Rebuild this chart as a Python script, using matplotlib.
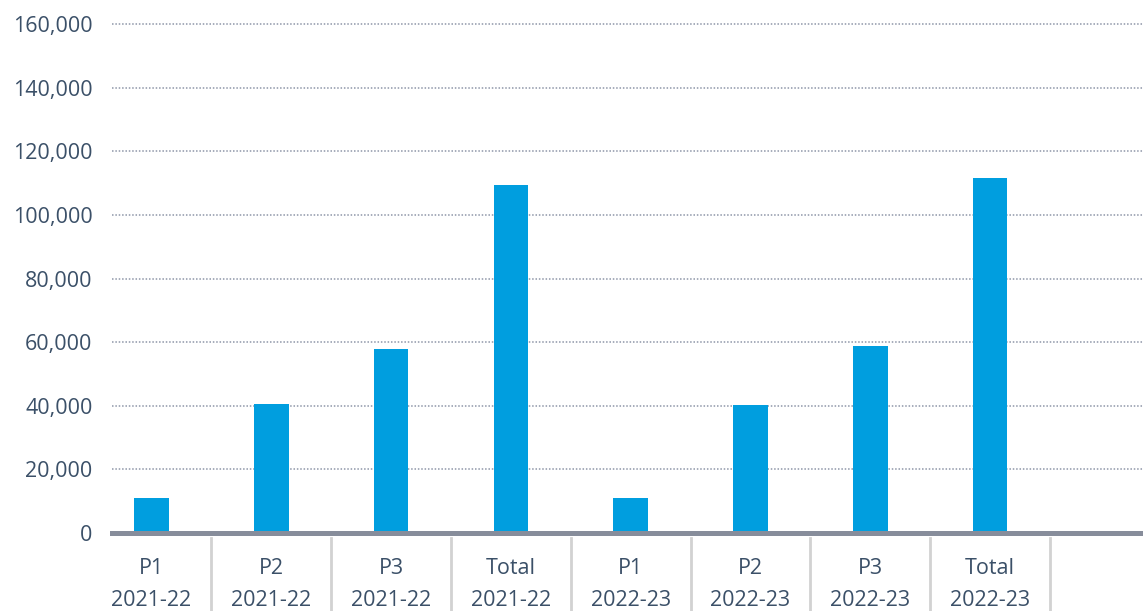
import matplotlib
matplotlib.use("Agg")
import matplotlib.pyplot as plt
from matplotlib.ticker import FuncFormatter

periods = ["P1", "P2", "P3", "Total", "P1", "P2", "P3", "Total"]
years = ["2021-22", "2021-22", "2021-22", "2021-22",
         "2022-23", "2022-23", "2022-23", "2022-23"]
values = [11000, 40500, 57700, 109300, 11000, 40200, 58800, 111600]
yticks = [0, 20000, 40000, 60000, 80000, 100000, 120000, 140000, 160000]

W, H = 1143, 611
fig = plt.figure(figsize=(W / 100, H / 100), dpi=100)
plt.rcParams['font.family'] = ['Open Sans', 'DejaVu Sans']

left_px, right_px = 112, 1143
zero_px, top_px = 533, 24
ymax = 162000
h_px = (zero_px - top_px) * ymax / 160000
ax = fig.add_axes([left_px / W, (H - zero_px) / H, (right_px - left_px) / W, h_px / H])

text_color = "#3b5068"
bar_color = "#009edf"
fs = 15.5

x = list(range(len(values)))
ax.bar(x, values, width=0.29, color=bar_color, zorder=3)

# x limits: centre 0 at px 151.5, spacing ~120 px
sp = 119.8
ax.set_xlim((left_px - 151.5) / sp, (right_px - 151.5) / sp)
ax.set_ylim(0, ymax)

for s in ax.spines.values():
    s.set_visible(False)

ax.set_yticks(yticks)
ax.yaxis.set_major_formatter(FuncFormatter(lambda v, p: f"{int(v):,}"))
ax.tick_params(axis='y', length=0, pad=14, labelsize=fs, labelcolor=text_color)
ax.tick_params(axis='x', length=0, labelbottom=False)

ax.grid(axis='y', linestyle=(0, (1, 1.2)), color="#8e96a8", linewidth=1.1, zorder=1)
ax.set_axisbelow(True)

# baseline
ax.axhline(0, color="#878d9b", linewidth=3.6, zorder=4, clip_on=False)

# separators below axis
trans = ax.get_xaxis_transform()
ax_h = h_px
for i in range(len(values)):
    xs = i + 0.5
    ax.plot([xs, xs], [-5 / ax_h, -90 / ax_h], transform=trans, color="#d2d2d2",
            linewidth=2, clip_on=False, zorder=2)

# category labels
for i, (p, yv) in enumerate(zip(periods, years)):
    ax.text(i, -(568 - zero_px) / ax_h, p, transform=trans, ha='center', va='center',
            fontsize=fs, color=text_color)
    ax.text(i, -(600 - zero_px) / ax_h, yv, transform=trans, ha='center', va='center',
            fontsize=fs, color=text_color)

fig.savefig("out.png", dpi=100)
